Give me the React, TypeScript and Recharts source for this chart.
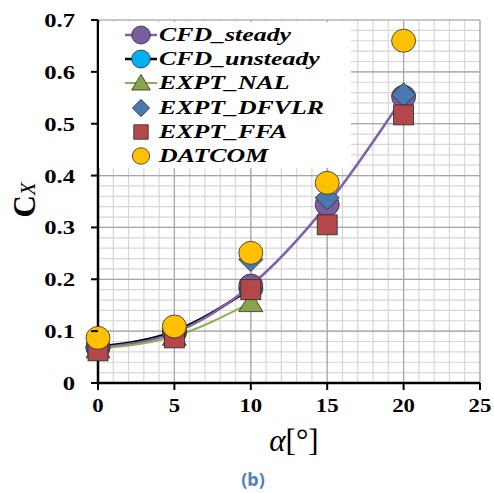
import React from "react";
import {
  ComposedChart,
  Line,
  XAxis,
  YAxis,
  CartesianGrid,
  ReferenceLine,
  Legend,
} from "recharts";

// angle of attack [deg]
const alpha = [0, 5, 10, 15, 20];

const cfdSteady = [0.068, 0.097, 0.188, 0.344, 0.552];
const cfdUnsteady = [0.07, 0.1, 0.182];
const exptNal = [0.066, 0.09, 0.155];
const exptDfvlr = [0.066, 0.094, 0.238, 0.357, 0.556];
const exptFfa = [0.062, 0.087, 0.18, 0.305, 0.517];
const datcom = [0.087, 0.109, 0.251, 0.386, 0.66];

// major ticks carry labels, minor ticks only give grid lines
const xMajor = [5, 10, 15, 20, 25];
const yMajor = [0.1, 0.2, 0.3, 0.4, 0.5, 0.6, 0.7];
const xMinor = Array.from({ length: 26 }, (_, i) => i);
const yMinor = Array.from({ length: 36 }, (_, i) => +(i * 0.02).toFixed(2));

const data = alpha.map((a, i) => ({
  alpha: a,
  cfdSteady: cfdSteady[i],
  cfdUnsteady: cfdUnsteady[i],
  exptNal: exptNal[i],
  exptDfvlr: exptDfvlr[i],
  exptFfa: exptFfa[i],
  datcom: datcom[i],
}));

const EDGE = "#2b2b2b";

type Kind = "circle" | "triangle" | "diamond" | "square";

function Marker({ kind, cx, cy, fill, s = 1 }: { kind: Kind; cx: number; cy: number; fill: string; s?: number }) {
  if (kind === "circle")
    return <ellipse cx={cx} cy={cy} rx={12 * s} ry={11.5 * s} fill={fill} stroke={EDGE} strokeWidth={0.8} />;
  if (kind === "triangle")
    return (
      <polygon
        points={`${cx},${cy - 11 * s} ${cx + 12 * s},${cy + 9 * s} ${cx - 12 * s},${cy + 9 * s}`}
        fill={fill}
        stroke={EDGE}
        strokeWidth={0.8}
      />
    );
  if (kind === "diamond")
    return (
      <polygon
        points={`${cx},${cy - 12 * s} ${cx + 12 * s},${cy} ${cx},${cy + 12 * s} ${cx - 12 * s},${cy}`}
        fill={fill}
        stroke={EDGE}
        strokeWidth={0.8}
      />
    );
  return <rect x={cx - 10 * s} y={cy - 10 * s} width={20 * s} height={20 * s} fill={fill} stroke={EDGE} strokeWidth={0.8} />;
}

const series = [
  { key: "cfdUnsteady", name: "CFD_unsteady", kind: "circle" as Kind, fill: "#00b0f0", line: "#000000", width: 2.5 },
  { key: "cfdSteady", name: "CFD_steady", kind: "circle" as Kind, fill: "#7a5d9e", line: "#7f63a8", width: 2.5 },
  { key: "exptNal", name: "EXPT_NAL", kind: "triangle" as Kind, fill: "#86a44a", line: "#8eb054", width: 2 },
  { key: "exptDfvlr", name: "EXPT_DFVLR", kind: "diamond" as Kind, fill: "#4a78b0", line: "none", width: 0 },
  { key: "exptFfa", name: "EXPT_FFA", kind: "square" as Kind, fill: "#b3484a", line: "none", width: 0 },
  { key: "datcom", name: "DATCOM", kind: "circle" as Kind, fill: "#ffc000", line: "none", width: 0 },
];

const legendOrder = ["cfdSteady", "cfdUnsteady", "exptNal", "exptDfvlr", "exptFfa", "datcom"];

function renderLegend() {
  return (
    <div style={{ background: "#fff", width: 252, height: 145, paddingTop: 1 }}>
      {legendOrder.map((k) => {
        const s = series.find((d) => d.key === k)!;
        return (
          <div key={k} style={{ display: "flex", alignItems: "center", height: 24.2 }}>
            <svg width={60} height={24} style={{ flexShrink: 0 }}>
              {s.line !== "none" && <line x1={26} x2={58} y1={12} y2={12} stroke={s.line} strokeWidth={s.width} />}
              <Marker kind={s.kind} cx={42} cy={12} fill={s.fill} s={s.kind === "diamond" || s.kind === "square" || k === "datcom" ? 0.72 : 0.78} />
            </svg>
            <span
              style={{
                fontFamily: "'Liberation Serif', 'Times New Roman', serif",
                fontWeight: "bold",
                fontStyle: "italic",
                fontSize: 19,
                display: "inline-block",
                transform: "scaleX(1.36)",
                transformOrigin: "left center",
                whiteSpace: "nowrap",
                lineHeight: "24px",
              }}
            >
              {s.name}
            </span>
          </div>
        );
      })}
    </div>
  );
}

const tickFont = "'Liberation Serif', 'Times New Roman', serif";
const isMajorY = (v: number) => Math.abs(v * 10 - Math.round(v * 10)) < 1e-6;

// tickSize 7 + tickMargin 16 => axis line sits 23px right of the label anchor
function YTick({ x, y, payload }: any) {
  const v = payload.value as number;
  if (!isMajorY(v)) return <g />;
  return (
    <g>
      <line x1={x + 16} x2={x + 23} y1={y} y2={y} stroke="#000" strokeWidth={2} />
      <g transform={`translate(${x},${y}) scale(1.3,1)`}>
        <text textAnchor="end" dy={7} fontFamily={tickFont} fontWeight="bold" fontSize={19} fill="#000">
          {v === 0 ? "0" : v.toFixed(1)}
        </text>
      </g>
    </g>
  );
}

// tickSize 7 + tickMargin 8 => axis line sits 15px above the label anchor
function XTick({ x, y, payload }: any) {
  const v = payload.value as number;
  if (v % 5 !== 0) return <g />;
  return (
    <g>
      <line x1={x} x2={x} y1={y - 15} y2={y - 8} stroke="#000" strokeWidth={2} />
      <g transform={`translate(${x},${y}) scale(1.2,1)`}>
        <text textAnchor="middle" dy={14} fontFamily={tickFont} fontWeight="bold" fontSize={19} fill="#000">
          {v}
        </text>
      </g>
    </g>
  );
}

function XLabel() {
  return (
    <g>
      <text x={294} y={451} textAnchor="middle" fontFamily={tickFont} fontSize={31} fill="#000">
        <tspan fontStyle="italic">α</tspan>
        <tspan>[°]</tspan>
      </text>
      <text x={253} y={486} textAnchor="middle" fontFamily="'Noto Sans', 'Open Sans', sans-serif" fontWeight="bold" fontSize={18} fill="#4f81bd">
        (b)
      </text>
    </g>
  );
}

function YLabel() {
  return (
    <text transform="translate(35,200) rotate(-90)" textAnchor="middle" fontFamily={tickFont} fill="#000">
      <tspan fontSize={31} fontWeight="bold">C</tspan>
      <tspan fontSize={21} fontStyle="italic">X</tspan>
    </text>
  );
}

export default function App() {
  return (
    <div style={{ position: "absolute", left: 0, top: 0, width: 494, height: 493, background: "#fff" }}>
      <ComposedChart width={494} height={493} data={data} margin={{ top: 20, right: 14, bottom: 70, left: 38 }}>
        <CartesianGrid stroke="#d6d6d6" strokeWidth={1.2} />
        {xMajor.map((v) => (
          <ReferenceLine key={"x" + v} x={v} stroke="#a6a6a6" strokeWidth={1.2} />
        ))}
        {yMajor.map((v) => (
          <ReferenceLine key={"y" + v} y={v} stroke="#a6a6a6" strokeWidth={1.2} />
        ))}
        <XAxis
          dataKey="alpha"
          type="number"
          domain={[0, 25]}
          ticks={xMinor}
          interval={0}
          height={40}
          axisLine={{ stroke: "#000", strokeWidth: 2.5 }}
          tickLine={false}
          tickSize={7}
          tickMargin={8}
          tick={<XTick />}
          label={<XLabel />}
        />
        <YAxis
          type="number"
          domain={[0, 0.7]}
          ticks={yMinor}
          interval={0}
          width={60}
          axisLine={{ stroke: "#000", strokeWidth: 2.5 }}
          tickLine={false}
          tickSize={7}
          tickMargin={16}
          tick={<YTick />}
          label={<YLabel />}
        />
        <Legend
          layout="vertical"
          align="center"
          verticalAlign="middle"
          content={renderLegend}
          wrapperStyle={{ top: 22, left: 99, width: 252, height: 145 }}
        />
        {series.map((s) => (
          <Line
            key={s.key}
            dataKey={s.key}
            name={s.name}
            type="monotone"
            stroke={s.line}
            strokeWidth={s.width}
            isAnimationActive={false}
            dot={(p: any) =>
              p.cx == null || p.cy == null || p.value == null ? (
                <g key={p.key} />
              ) : (
                <g key={p.key}>
                  <Marker kind={s.kind} cx={p.cx} cy={p.cy} fill={s.fill} />
                </g>
              )
            }
            activeDot={false}
          />
        ))}
      </ComposedChart>
    </div>
  );
}
